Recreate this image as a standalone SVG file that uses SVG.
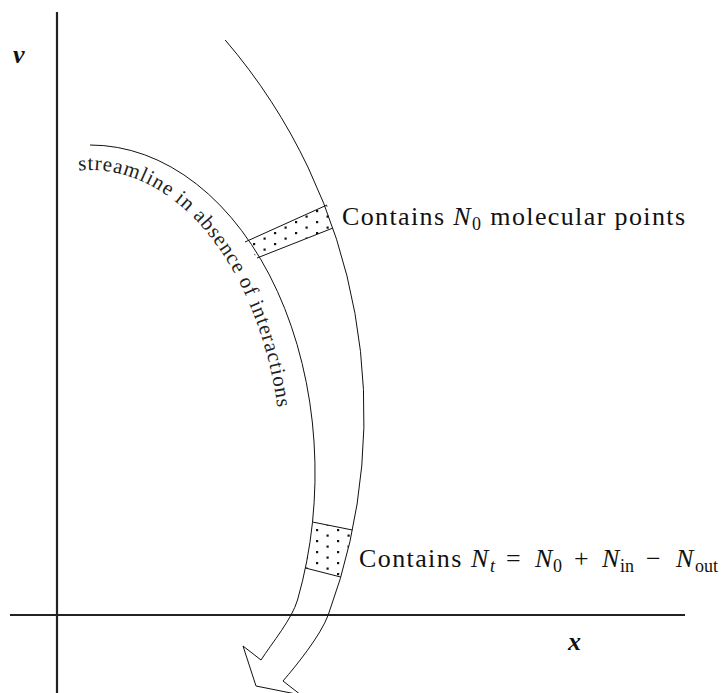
<svg xmlns="http://www.w3.org/2000/svg" width="728" height="693" viewBox="0 0 728 693">
<style>
.ax{stroke:#222;stroke-width:2.2;fill:none}
.ln{stroke:#111;stroke-width:1;fill:none}
.lbl{font-family:"Liberation Serif",serif;font-size:26px;fill:#111}
.it{font-style:italic}
.sm{font-size:18px}
.axl{font-family:"Liberation Serif",serif;font-size:26px;font-style:italic;font-weight:bold;fill:#111}
.sl{font-family:"Liberation Serif",serif;font-size:21px;fill:#222;letter-spacing:0.9px}
</style>
<defs>
<pattern id="dots" patternUnits="userSpaceOnUse" width="21" height="11" x="0" y="0">
<rect x="1" y="1" width="2.2" height="2.2" fill="#111"/>
<rect x="11.5" y="6.5" width="2.2" height="2.2" fill="#111"/>
</pattern>
<path id="tp" d="M78.5,170.5 A192,303 0 0 1 282,473"/>
</defs>
<g id="axes">
<line class="ax" x1="57" y1="12" x2="57" y2="693"/>
<line class="ax" x1="10" y1="615" x2="685" y2="615"/>
<text class="axl" x="13" y="63">v</text>
<text class="axl" x="568" y="650">x</text>
</g>
<g id="band-top">
<polygon points="245,242 327,205 333,228 257,258" fill="url(#dots)"/>
<line class="ln" x1="245" y1="242" x2="327" y2="205"/>
<line class="ln" x1="257" y1="258" x2="333" y2="228"/>
</g>
<g id="band-bottom">
<polygon points="312.5,522 352.4,530 340.7,577 305.4,568" fill="url(#dots)"/>
<line class="ln" x1="312.5" y1="522" x2="352.4" y2="530"/>
<line class="ln" x1="305.4" y1="568" x2="340.7" y2="577"/>
</g>
<g id="connectors">
<path class="ln" d="M90,145 A225,328 0 0 1 297.5,600 C292,619 272,643 261,660 L243,646 L256,686 L301,695 L283,681 C296,666 320.6,635.6 328.2,615 A576,576 0 0 0 225.2,40"/>
</g>
<g id="streamline-label">
<text class="sl"><textPath href="#tp">streamline in absence of interactions</textPath></text>
</g>
<g id="label-top">
<text class="lbl" x="342" y="225" textLength="343" lengthAdjust="spacing">Contains <tspan class="it">N</tspan><tspan class="sm" dy="5">0</tspan><tspan dy="-5"> molecular points</tspan></text>
</g>
<g id="label-bottom">
<text class="lbl" y="567"><tspan x="359" letter-spacing="1.4">Contains</tspan><tspan class="it" x="471">N</tspan><tspan class="sm it" x="490" y="572">t</tspan><tspan x="506" y="567">=</tspan><tspan class="it" x="535">N</tspan><tspan class="sm" x="553" y="572">0</tspan><tspan x="574" y="567">+</tspan><tspan class="it" x="602">N</tspan><tspan class="sm" x="620" y="572">in</tspan><tspan x="646" y="567">−</tspan><tspan class="it" x="676">N</tspan><tspan class="sm" x="695" y="572" font-size="19">out</tspan></text>
</g>
</svg>
